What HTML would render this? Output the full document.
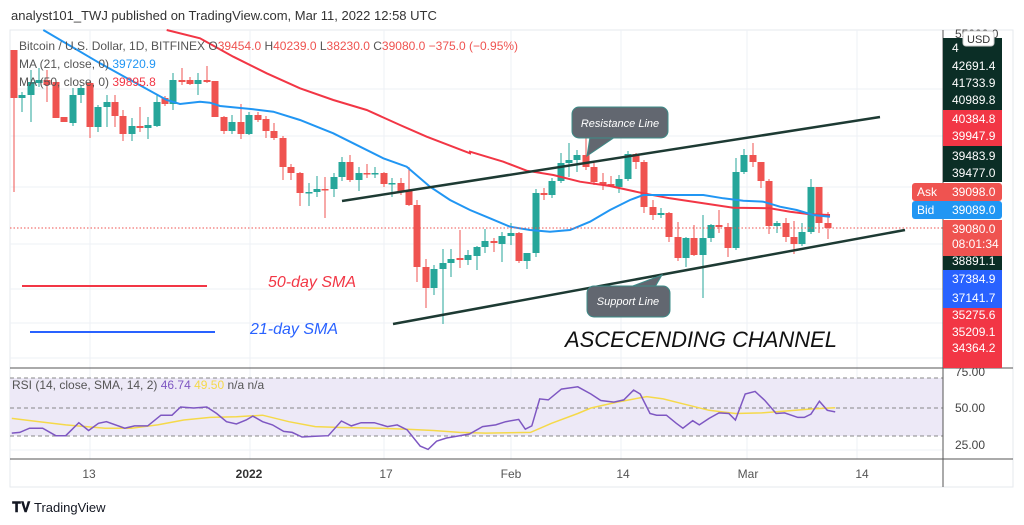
<!DOCTYPE html>
<html><head><meta charset="utf-8"><style>
body{margin:0;background:#fff;width:1024px;height:525px;overflow:hidden;font-family:"Liberation Sans",sans-serif}
svg{position:absolute;left:0;top:0}
</style></head><body>
<svg id="s" width="1024" height="525" xmlns="http://www.w3.org/2000/svg" font-family="Liberation Sans, sans-serif">
<rect x="10" y="30" width="1003" height="457" fill="#fff" stroke="#e6e9ee"/>
<g id="grid" stroke="#eef1f5" stroke-width="1"></g>
<rect x="10" y="378" width="933" height="58" fill="#ede9f7"/>
<g stroke="#888" stroke-dasharray="4,3" stroke-width="1"><line x1="10" y1="378" x2="943" y2="378"/><line x1="10" y1="408" x2="943" y2="408"/><line x1="10" y1="436" x2="943" y2="436"/></g>
<g id="c"></g>
<g id="ma" fill="none" stroke-width="2"></g>
<line x1="10" y1="228" x2="943" y2="228" stroke="#ef5350" stroke-dasharray="1.5,2"/>
<g stroke="#1d3a33" stroke-width="2.5"><line x1="342" y1="201" x2="880" y2="117"/><line x1="393" y1="324" x2="905" y2="230"/></g>
<g><polygon points="590,137 587,156 615,137" fill="#626770" stroke="#3c8c88"/><rect x="572" y="107" width="96" height="31" rx="7" fill="#626770" stroke="#3c8c88"/><text x="620" y="127" fill="#fff" font-size="11" font-style="italic" text-anchor="middle">Resistance Line</text>
<polygon points="630,287 662,275 655,287" fill="#626770" stroke="#3c8c88"/><rect x="587" y="286" width="83" height="31" rx="7" fill="#626770" stroke="#3c8c88"/><text x="628" y="305" fill="#fff" font-size="11" font-style="italic" text-anchor="middle">Support Line</text></g>
<line x1="22" y1="286" x2="207" y2="286" stroke="#f23645" stroke-width="2"/>
<line x1="30" y1="332" x2="215" y2="332" stroke="#2962ff" stroke-width="2"/>
<text x="268" y="287" fill="#f23645" font-size="16" font-style="italic">50-day SMA</text>
<text x="250" y="334" fill="#2962ff" font-size="16" font-style="italic">21-day SMA</text>
<text x="565" y="347" fill="#111" font-size="22" font-style="italic" textLength="272" lengthAdjust="spacing">ASCECENDING CHANNEL</text>
<text x="11" y="20" fill="#333" font-size="13">analyst101_TWJ published on TradingView.com, Mar 11, 2022 12:58 UTC</text>
<g font-size="12"><text x="19" y="50" fill="#555">Bitcoin / U.S. Dollar, 1D, BITFINEX <tspan fill="#555"> O</tspan><tspan fill="#ef5350">39454.0</tspan><tspan fill="#555">  H</tspan><tspan fill="#ef5350">40239.0</tspan><tspan fill="#555">  L</tspan><tspan fill="#ef5350">38230.0</tspan><tspan fill="#555">  C</tspan><tspan fill="#ef5350">39080.0  −375.0 (−0.95%)</tspan></text>
<text x="19" y="68" fill="#555">MA (21, close, 0) <tspan fill="#2196f3"> 39720.9</tspan></text>
<text x="19" y="86" fill="#555">MA (50, close, 0) <tspan fill="#f23645"> 39895.8</tspan></text>
<text x="12" y="389" fill="#555">RSI (14, close, SMA, 14, 2) <tspan fill="#7e57c2">46.74</tspan> <tspan fill="#f5d94a">49.50</tspan> n/a n/a</text></g>
<g id="rsi" fill="none" stroke-width="1.5"></g>
<line x1="10" y1="368" x2="1013" y2="368" stroke="#555"/>
<line x1="10" y1="459" x2="1013" y2="459" stroke="#555"/>
<line x1="943" y1="30" x2="943" y2="487" stroke="#555"/>
<g font-size="12" fill="#555" text-anchor="middle"><text x="89" y="478">13</text><text x="249" y="478" fill="#333" font-weight="bold">2022</text><text x="386" y="478">17</text><text x="511" y="478">Feb</text><text x="623" y="478">14</text><text x="748" y="478">Mar</text><text x="862" y="478">14</text></g>
<g font-size="12" fill="#444"><text x="955" y="38">55000.0</text><text x="955" y="376">75.00</text><text x="955" y="412">50.00</text><text x="955" y="449">25.00</text></g>
<g id="ax" font-size="12"></g>
<rect x="963" y="31" width="31" height="15" rx="3" fill="#fff" stroke="#ccc"/><text x="967" y="43" font-size="11" fill="#333">USD</text>
<text x="12" y="512" font-size="14" font-weight="bold" fill="#131722">𝐓𝐕</text><text x="34" y="512" font-size="13" fill="#131722">TradingView</text>
</svg>
<script>
var NS="http://www.w3.org/2000/svg";
function el(p,t,a){var e=document.createElementNS(NS,t);for(var k in a)e.setAttribute(k,a[k]);document.getElementById(p).appendChild(e);return e;}
[89,136,187,244,289,323,358,398,420,450].forEach(function(y){el("grid","line",{x1:10,y1:y,x2:943,y2:y});});
[90,250,384,511,621,747,857].forEach(function(x){el("grid","line",{x1:x,y1:30,x2:x,y2:459});});
var C=[[14,50,98,50,192],[22,98,95,92,112],[31,95,82,70,122],[39,83,80,68,87],[47,80,85,70,102],[56,82,118,82,118],[64,117,122,117,122],[73,123,95,88,126],[81,95,88,85,103],[90,83,127,80,138],[98,127,107,105,132],[107,107,102,95,127],[115,102,116,95,127],[123,116,134,110,141],[132,134,126,118,141],[140,126,128,107,132],[148,128,125,117,139],[157,126,102,95,127],[165,98,104,96,106],[173,104,80,73,110],[182,80,82,68,85],[190,80,84,77,85],[198,84,80,73,95],[207,80,82,66,83],[215,81,117,81,117],[224,117,131,116,134],[232,131,122,115,134],[241,122,134,104,139],[249,134,115,112,135],[258,115,120,112,122],[266,119,131,116,138],[274,131,138,123,140],[283,138,167,136,180],[291,167,173,164,180],[300,173,193,172,206],[309,193,192,183,206],[317,192,189,176,197],[325,189,190,177,218],[334,189,177,173,197],[342,177,162,157,181],[350,162,180,155,182],[359,180,173,167,191],[367,173,174,164,178],[375,174,173,167,178],[384,173,184,172,187],[392,184,183,178,197],[401,183,192,178,195],[409,191,205,167,206],[417,205,267,200,282],[426,267,288,259,308],[434,288,269,265,295],[443,269,263,249,324],[451,263,259,249,277],[460,258,260,230,268],[468,260,255,250,265],[477,256,247,246,270],[485,247,241,229,253],[494,241,243,238,252],[502,244,236,232,262],[511,236,233,223,245],[519,233,261,232,263],[527,261,253,253,269],[536,253,193,189,257],[544,193,195,188,200],[552,195,181,178,198],[561,181,163,153,183],[569,163,160,143,177],[577,160,155,150,172],[586,155,167,137,170],[594,167,182,163,185],[603,182,185,173,190],[611,184,186,176,187],[619,187,179,175,193],[628,179,154,151,181],[636,154,162,153,169],[644,162,207,160,213],[653,207,215,200,220],[661,215,213,208,218],[669,213,237,212,242],[678,237,258,222,261],[686,258,238,237,267],[694,238,255,225,256],[703,255,238,215,298],[711,238,225,224,242],[719,225,227,210,233],[728,227,248,223,257],[736,248,172,158,250],[744,172,155,149,174],[753,155,162,143,167],[761,162,181,162,188],[769,181,226,179,234],[777,226,223,221,233],[786,223,237,218,242],[794,237,244,221,254],[802,244,232,223,246],[811,232,187,179,234],[819,187,223,187,233],[828,223,228,212,239]];
C.forEach(function(c){var g=c[2]<c[1],col=g?"#26a69a":"#ef5350";el("c","line",{x1:c[0],y1:c[3],x2:c[0],y2:c[4],stroke:col,"stroke-width":1});var t=Math.min(c[1],c[2]),h=Math.max(1.5,Math.abs(c[2]-c[1]));el("c","rect",{x:c[0]-3.5,y:t,width:7,height:h,fill:col});});
function pl(p,pts,col){el(p,"polyline",{points:pts.map(function(q){return q[0].toFixed(1)+","+q[1].toFixed(1)}).join(" "),stroke:col});}
var z3=function(a){return a.map(function(q){return[q[0]/3,30+q[1]/3]})},z4=function(a){return a.map(function(q){return[470+q[0]/3,30+q[1]/3]})};
var blue=z3([[130,0],[300,100],[500,210],[540,222],[600,215],[630,218],[660,228],[760,238],[820,245],[900,270],[1000,310],[1060,340],[1150,385],[1220,410],[1290,470],[1350,510],[1410,540]]).concat(z4([[0,540],[60,565],[120,590],[180,600],[240,605],[300,600],[360,575],[420,540],[480,510],[520,495],[600,495],[700,495],[760,505],[820,512],[880,515],[930,530],[980,540],[1030,555],[1080,560]]));
var red=z3([[500,0],[600,25],[700,80],[800,130],[900,175],[1000,210],[1100,240],[1200,285],[1280,320],[1410,370]]).concat(z4([[0,365],[100,395],[170,422],[250,435],[330,455],[420,468],[520,490],[600,505],[700,520],[790,533],[900,535],[960,545],[1020,553],[1080,555]]));
pl("ma",red,"#f23645");pl("ma",blue,"#2196f3");
var z5=function(a){return a.map(function(q){return[q[0]/1.523,408+(q[1]-143)*0.3256]})};
pl("rsi",z5([[18,175],[60,185],[100,195],[160,205],[200,205],[240,195],[280,180],[320,172],[360,170],[400,165],[440,185],[480,200],[520,203],[580,205],[620,208],[660,212],[700,218],[740,220],[808,218],[840,190],[880,160],[900,143],[940,125],[985,108],[1010,115],[1040,130],[1080,150],[1120,160],[1160,158],[1200,152],[1240,145],[1272,142]]),"#f5d94a");
pl("rsi",z5([[18,220],[30,218],[45,205],[65,205],[85,228],[100,228],[120,188],[135,212],[150,190],[162,185],[190,205],[205,198],[225,198],[245,165],[262,165],[275,140],[295,143],[315,140],[330,160],[345,185],[360,192],[375,180],[385,168],[400,185],[415,195],[432,215],[445,218],[460,232],[480,230],[500,228],[520,183],[535,198],[550,188],[570,188],[590,200],[605,195],[620,210],[640,260],[652,270],[665,245],[680,235],[700,228],[715,223],[735,200],[755,195],[770,185],[790,178],[800,208],[810,198],[822,115],[835,118],[855,85],[880,78],[900,100],[915,120],[935,125],[950,118],[965,88],[975,100],[990,160],[1000,165],[1015,165],[1030,190],[1040,205],[1055,182],[1065,195],[1080,175],[1095,158],[1110,160],[1120,180],[1135,100],[1150,92],[1165,120],[1182,160],[1195,158],[1215,172],[1225,172],[1235,162],[1248,122],[1260,150],[1272,155]]),"#7e57c2");
var A=[[38,110,"#0b2e26",["42691.4","41733.9","40989.8"],[48,66,83,100]],[110,146,"#f23645",["40384.8","39947.9"],null,[119,136]],[146,182,"#0b2e26",["39483.9","39477.0"],null,[156,173]],[220,256,"#ef5350",["39080.0","08:01:34"],null,[229,244]],[256,270,"#0b2e26",["38891.1"],null,[261]],[270,308,"#2962ff",["37384.9","37141.7"],null,[279,298]],[308,368,"#f23645",["35275.6","35209.1","34364.2"],null,[315,332,348]]];
A.forEach(function(a){el("ax","rect",{x:943,y:a[0],width:59,height:a[1]-a[0],fill:a[2]});var ys=a[5]||a[4].slice(1);a[3].forEach(function(t,i){var e=el("ax","text",{x:952,y:ys[i]+4,fill:"#fff"});e.textContent=t;});});
var e=el("ax","text",{x:952,y:52,fill:"#fff"});e.textContent="4";
el("ax","rect",{x:912,y:183,width:90,height:18,rx:3,fill:"#ef5350"});e=el("ax","text",{x:917,y:196,fill:"#fff"});e.textContent="Ask";e=el("ax","text",{x:952,y:196,fill:"#fff"});e.textContent="39098.0";
el("ax","rect",{x:912,y:201,width:90,height:18,rx:3,fill:"#2196f3"});e=el("ax","text",{x:917,y:214,fill:"#fff"});e.textContent="Bid";e=el("ax","text",{x:952,y:214,fill:"#fff"});e.textContent="39089.0";
</script>
</body></html>
